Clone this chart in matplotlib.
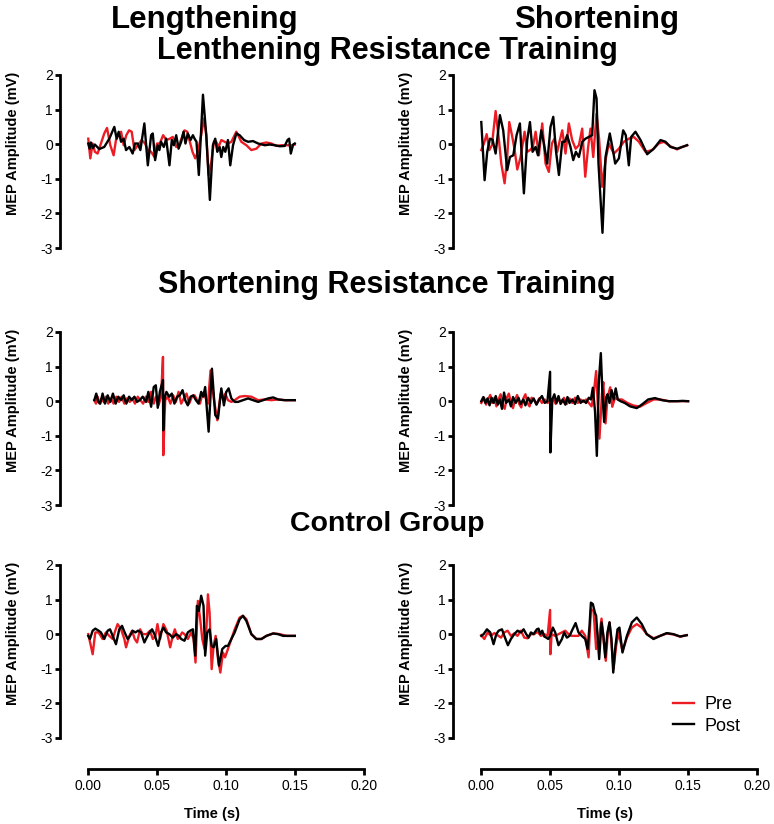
import numpy as np
import matplotlib
matplotlib.use("Agg")
import matplotlib.pyplot as plt

# MEP traces: time in ms, amplitude in mV
# Lengthening resistance training, lengthening contraction
lrt_len_pre_t = [0, 1.5, 3.2, 4.8, 6.8, 9.2, 11.6, 13.6, 16.0, 18.4, 20.1, 21.8, 23.8, 25.7, 27.6, 29.6, 31.5, 33.5, 35.9, 38.8,
                 41.2, 43.2, 45.6, 48.0, 49.9, 51.9, 54.3, 56.7, 59.2, 61.3, 63.8, 66.2, 68.1, 69.8, 71.8, 73.7, 75.6, 77.6, 79.5, 81.9,
                 83.9, 85.6, 87.3, 89.2, 91.2, 92.8, 94.5, 96.5, 98.9, 101.3, 103.8, 107.4, 111.0, 114.7, 118.3, 121.9, 125.6, 129.2, 132.8, 136.5,
                 140.1, 143.8, 147.4, 149.8]
lrt_len_pre_mv = [0.16, -0.41, 0.02, -0.22, -0.27, 0.02, 0.31, 0.47, -0.03, -0.32, 0.12, 0.26, 0.36, -0.03, 0.26, 0.40, 0.36, -0.17, -0.03, 0.12,
                  0.02, -0.17, -0.22, -0.37, 0.02, 0.02, 0.26, 0.12, 0.16, 0.21, -0.08, 0.02, 0.21, 0.40, 0.36, 0.07, -0.22, -0.41, -0.22, 0.26,
                  0.74, 0.26, -0.89, -0.51, 0.07, 0.07, -0.08, 0.12, 0.07, 0.02, 0.07, 0.36, 0.07, -0.03, -0.17, -0.13, 0.02, 0.05, 0.02, -0.05,
                  -0.03, -0.03, -0.03, -0.01]
lrt_len_post_t = [0, 1.0, 1.9, 3.4, 4.8, 8.0, 11.6, 15.3, 18.9, 20.6, 22.1, 23.8, 25.7, 27.4, 29.8, 32.2, 33.9, 35.9, 37.8, 40.7,
                  43.2, 45.6, 46.8, 48.5, 50.4, 51.6, 52.8, 54.8, 56.5, 58.9, 60.6, 62.1, 63.8, 65.5, 67.4, 69.1, 70.5, 72.2, 74.2, 75.9,
                  77.1, 78.5, 80.2, 83.2, 85.6, 88.2, 90.4, 92.1, 93.6, 95.3, 96.5, 97.9, 99.4, 101.3, 103.0, 105.0, 107.4, 109.8, 113.0, 115.9,
                  119.5, 123.2, 128.0, 131.6, 135.3, 138.9, 142.5, 144.5, 145.7, 146.9, 148.6, 149.8]
lrt_len_post_mv = [0.02, -0.13, 0.05, -0.11, -0.01, -0.14, -0.08, 0.16, 0.50, 0.16, 0.36, 0.07, 0.16, -0.17, -0.08, -0.27, 0.02, 0.02, -0.17, 0.60,
                   -0.61, 0.26, 0.31, -0.46, -0.03, -0.17, 0.07, -0.08, 0.16, -0.61, 0.12, -0.03, 0.26, -0.13, 0.07, 0.36, 0.02, 0.31, 0.12, 0.26,
                   0.16, 0.07, -0.89, 1.43, 0.26, -1.61, -0.03, 0.16, -0.22, -0.08, -0.37, -0.08, -0.22, 0.12, -0.61, -0.03, 0.31, 0.26, 0.12, 0.07,
                   0.09, 0.02, -0.03, -0.01, -0.03, -0.06, -0.05, 0.12, 0.16, -0.27, -0.01, 0.02]

# Lengthening resistance training, shortening contraction
lrt_sho_pre_t = [0, 1.9, 3.9, 5.8, 7.7, 10.4, 12.8, 14.5, 16.9, 18.8, 20.3, 22.5, 24.2, 26.1, 28.5, 31.4, 33.3, 35.3, 37.4, 39.4,
                 41.8, 44.2, 46.6, 49.0, 51.2, 53.1, 55.1, 57.0, 58.7, 61.1, 63.5, 65.9, 68.4, 70.8, 73.2, 75.4, 77.5, 79.2, 81.2, 83.6,
                 85.5, 87.7, 90.1, 92.5, 96.1, 99.8, 103.4, 107.0, 110.6, 114.3, 119.1, 123.9, 128.7, 132.4, 137.2, 142.0, 145.7, 149.3]
lrt_sho_pre_mv = [-0.17, 0.02, 0.29, -0.17, -0.03, 0.96, 0.12, -0.56, -1.13, -0.37, 0.64, 0.21, -0.17, -0.73, -0.37, 0.36, -0.22, -0.17, -0.08, 0.36,
                  -0.32, 0.60, -0.56, -0.80, 0.02, 0.16, -0.22, 0.12, 0.40, -0.27, 0.60, 0.12, -0.13, -0.03, 0.45, -0.94, -0.08, 0.45, -0.37, 0.88,
                  0.12, -1.23, -0.46, 0.02, -0.27, -0.13, 0.07, 0.16, 0.21, 0.07, -0.22, -0.17, 0.02, 0.07, -0.06, -0.15, -0.08, -0.03]
lrt_sho_post_t = [0, 2.4, 4.3, 6.3, 8.2, 10.4, 13.5, 15.9, 18.8, 20.8, 23.2, 25.6, 28.0, 30.9, 33.3, 35.3, 37.2, 39.4, 41.1, 43.5,
                  45.4, 47.8, 50.2, 52.2, 54.1, 56.3, 58.7, 60.6, 62.3, 64.7, 66.7, 68.6, 70.8, 73.2, 75.6, 78.0, 80.4, 82.1, 83.6, 85.0,
                  87.9, 90.1, 93.2, 95.7, 97.1, 99.8, 102.9, 104.8, 107.0, 108.7, 111.8, 115.5, 120.3, 125.1, 130.0, 133.6, 137.2, 142.0, 145.7, 149.3]
lrt_sho_post_mv = [0.64, -1.04, -0.22, 0.16, 0.13, -0.27, 0.84, 0.40, -0.75, -0.37, -0.32, 0.26, 0.60, -1.42, 0.12, 0.64, -0.22, -0.08, -0.32, 0.40,
                   0.02, -0.56, 0.50, 0.79, -0.17, -0.89, 0.07, 0.07, 0.26, -0.08, -0.46, -0.22, -0.37, 0.07, 0.16, 0.21, 0.26, 1.56, 1.32, -0.56,
                   -2.56, -0.37, 0.31, -0.22, -0.56, -0.41, 0.40, 0.26, -0.61, 0.21, 0.36, 0.12, -0.29, -0.13, 0.12, 0.07, -0.08, -0.13, -0.08, -0.03]

# Shortening resistance training, lengthening contraction
srt_len_pre_t = [4.4, 5.6, 6.8, 8.2, 9.7, 11.2, 12.8, 14.5, 16.5, 18.4, 20.4, 22.3, 24.2, 26.2, 28.1, 30.1, 32.0, 33.9, 35.9, 37.8,
                 39.8, 41.7, 43.6, 45.6, 47.5, 49.0, 50.9, 52.8, 54.2, 54.4, 55.8, 57.7, 59.6, 61.6, 63.5, 65.5, 67.4, 69.3, 71.3, 73.2,
                 75.2, 77.1, 79.0, 81.0, 82.9, 84.8, 86.8, 88.7, 91.2, 93.6, 96.0, 97.9, 99.4, 101.3, 103.8, 106.2, 109.8, 113.5, 118.3, 123.2,
                 128.0, 132.8, 137.7, 142.5, 149.8]
srt_len_pre_mv = [0.03, -0.07, 0.13, -0.07, 0.08, -0.02, 0.13, -0.07, 0.08, -0.07, 0.13, -0.02, 0.13, -0.07, 0.08, -0.02, 0.08, -0.07, 0.13, 0.03,
                  -0.07, 0.13, -0.02, 0.27, -0.07, 0.13, -0.12, 0.13, 1.28, -1.56, 0.03, 0.13, -0.07, 0.17, -0.02, 0.27, -0.07, 0.08, 0.22, -0.07,
                  0.13, 0.17, 0.03, -0.07, 0.22, 0.13, -0.07, 0.89, 0.03, -0.55, 0.22, 0.08, 0.22, 0.03, -0.02, 0.03, 0.13, 0.15, 0.13, 0.03,
                  0.05, 0.03, 0.05, 0.03, 0.03]
srt_len_post_t = [4.4, 5.8, 7.3, 8.7, 10.4, 12.1, 14.1, 16.0, 17.9, 19.9, 21.8, 23.8, 25.7, 27.6, 29.6, 31.5, 33.5, 35.4, 37.3, 39.5,
                  41.9, 43.6, 45.6, 47.5, 49.0, 50.4, 51.9, 54.2, 54.4, 55.3, 56.7, 58.7, 60.6, 62.5, 64.5, 66.4, 68.4, 70.3, 72.2, 74.2,
                  76.1, 78.1, 80.0, 81.9, 83.4, 84.8, 87.3, 89.7, 92.1, 94.1, 96.5, 98.4, 100.1, 101.8, 103.8, 106.2, 108.6, 112.2, 115.9, 119.5,
                  123.2, 126.8, 130.4, 134.1, 137.7, 142.5, 149.8]
srt_len_post_mv = [0.03, 0.22, -0.02, -0.07, 0.22, -0.07, 0.17, -0.02, 0.22, -0.07, 0.13, 0.03, 0.17, -0.07, 0.13, 0.03, 0.13, -0.02, 0.03, 0.13,
                   -0.02, 0.27, -0.16, 0.41, 0.46, -0.19, 0.27, 0.61, -0.84, 0.08, 0.27, 0.13, 0.22, -0.07, 0.13, 0.17, 0.32, 0.03, -0.12, 0.13,
                   0.17, 0.03, -0.07, 0.27, 0.13, 0.41, -0.88, 0.94, -0.40, -0.50, 0.37, -0.12, 0.27, 0.37, 0.08, -0.02, -0.02, 0.03, 0.08, 0.03,
                   -0.02, 0.03, 0.08, 0.11, 0.05, 0.03, 0.03]

# Shortening resistance training, shortening contraction
srt_sho_pre_t = [0, 2.0, 3.5, 5.0, 6.5, 8.0, 9.5, 11.0, 12.5, 14.0, 15.5, 17.0, 18.5, 20.0, 21.5, 23.0, 24.5, 26.0, 27.5, 29.0,
                 30.5, 32.0, 33.5, 35.0, 36.5, 38.0, 40.0, 42.0, 44.0, 46.0, 48.0, 50.0, 52.0, 54.0, 56.0, 58.0, 60.0, 62.0, 64.0, 66.0,
                 68.0, 70.0, 72.0, 74.0, 76.0, 78.0, 80.0, 81.5, 83.3, 85.7, 87.5, 88.5, 90.1, 91.5, 93.5, 95.0, 97.0, 99.0, 102.0, 106.0,
                 110.0, 115.0, 120.0, 125.0, 130.0, 136.0, 142.0, 150.0]
srt_sho_pre_mv = [-0.05, 0.10, -0.10, 0.05, 0.18, -0.05, 0.10, -0.15, 0.05, 0.20, -0.10, -0.22, 0.10, 0.22, -0.05, -0.20, 0.05, 0.18, -0.08, -0.18,
                  0.08, 0.20, -0.05, -0.15, 0.10, 0.05, -0.08, 0.08, -0.05, 0.05, -0.05, 0.0, 0.08, -0.08, 0.05, -0.05, 0.10, -0.08, 0.08, -0.05,
                  0.10, -0.05, 0.05, -0.02, 0.05, -0.05, -0.15, 0.20, 0.87, -1.08, 0.20, 0.55, -0.64, 0.10, 0.40, -0.16, 0.10, 0.05, 0.05, -0.05,
                  -0.12, -0.16, -0.05, 0.05, 0.05, 0.0, 0.0, 0.0]
srt_sho_post_t = [0, 1.5, 3.0, 4.5, 6.0, 7.5, 9.0, 10.5, 12.0, 13.5, 15.0, 16.5, 18.0, 20.0, 21.5, 23.0, 25.0, 27.0, 28.5, 30.5,
                  32.0, 34.0, 36.0, 38.0, 40.0, 42.0, 44.0, 46.0, 48.0, 49.9, 50.1, 51.5, 53.0, 54.5, 56.0, 57.5, 59.0, 61.0, 62.5, 64.0,
                  66.0, 68.0, 70.0, 72.0, 74.0, 76.0, 78.0, 79.5, 80.9, 82.5, 83.8, 85.3, 86.7, 88.0, 89.1, 90.5, 91.5, 93.0, 94.5, 96.0,
                  97.5, 99.0, 101.0, 104.0, 108.0, 112.8, 117.0, 121.0, 126.0, 131.0, 136.0, 142.0, 146.0, 150.0]
srt_sho_post_mv = [0.0, 0.12, -0.05, 0.08, -0.12, 0.10, -0.05, 0.15, -0.10, 0.05, -0.22, 0.25, -0.05, 0.05, -0.15, 0.12, -0.05, 0.10, -0.08, 0.05,
                   -0.12, 0.10, -0.05, 0.08, -0.10, 0.05, 0.15, -0.05, 0.00, 0.85, -1.48, 0.05, 0.20, -0.05, 0.15, -0.08, 0.05, -0.10, 0.12, -0.05,
                   0.05, -0.08, 0.15, -0.05, 0.02, -0.05, 0.10, 0.05, 0.39, -0.30, -1.58, 0.60, 1.39, 0.10, -0.60, 0.10, 0.20, -0.05, 0.32, 0.05,
                   0.37, 0.05, 0.00, -0.05, -0.15, -0.20, -0.08, 0.05, 0.09, 0.03, 0.0, 0.0, 0.01, 0.0]

# Control group, lengthening contraction
con_len_pre_t = [0, 1.9, 3.2, 5.1, 7.5, 10.4, 12.8, 15.3, 17.7, 19.6, 21.3, 23.8, 26.2, 27.4, 29.8, 31.8, 33.7, 35.4, 37.6, 39.5,
                 42.4, 44.8, 46.8, 48.7, 50.2, 52.1, 54.5, 56.9, 59.4, 61.3, 62.8, 64.9, 66.7, 68.1, 69.8, 72.2, 74.7, 76.4, 77.8, 79.5,
                 81.2, 82.7, 84.4, 85.6, 86.8, 88.0, 89.5, 90.9, 92.4, 94.1, 95.8, 97.7, 99.2, 101.3, 103.8, 106.2, 109.8, 112.2, 114.7, 118.3,
                 121.9, 125.6, 129.2, 134.1, 138.9, 143.8, 149.8]
con_len_pre_mv = [0.00, -0.34, -0.58, 0.05, 0.05, -0.14, 0.05, -0.05, -0.14, 0.10, 0.29, 0.14, -0.14, -0.38, -0.05, 0.10, -0.14, -0.24, 0.14, 0.00,
                  0.00, 0.10, -0.14, -0.05, 0.29, -0.14, 0.29, 0.10, -0.38, -0.05, 0.14, -0.14, -0.05, 0.05, 0.00, -0.14, 0.05, -0.14, -0.82, 0.96,
                  0.43, -0.14, -0.43, 0.05, 1.15, 0.62, -1.01, -0.34, -0.05, -0.72, -1.11, -0.53, -0.67, -0.43, -0.14, 0.14, 0.48, 0.53, 0.43, 0.00,
                  -0.14, -0.14, -0.05, 0.02, 0.00, -0.05, -0.05]
con_len_post_t = [0, 1.2, 3.2, 5.1, 7.5, 9.2, 11.6, 14.1, 15.8, 17.7, 20.1, 22.5, 24.5, 26.4, 28.6, 30.3, 32.2, 34.2, 36.1, 38.3,
                  40.7, 42.4, 44.4, 46.3, 48.0, 50.7, 52.8, 54.5, 56.5, 58.9, 61.3, 63.8, 65.7, 67.4, 69.8, 72.2, 73.9, 75.9, 77.6, 78.8,
                  80.2, 81.9, 83.6, 84.8, 86.3, 88.0, 89.5, 90.9, 92.8, 94.8, 97.2, 99.6, 101.3, 103.8, 106.2, 109.8, 112.2, 114.7, 118.3, 121.9,
                  125.6, 129.2, 134.1, 137.7, 141.3, 146.2, 149.8]
con_len_post_mv = [-0.05, -0.14, 0.10, 0.16, 0.10, 0.05, -0.14, 0.10, 0.14, -0.05, -0.29, 0.14, 0.24, 0.05, -0.14, -0.05, 0.10, 0.05, 0.10, 0.05,
                   -0.24, -0.10, 0.05, 0.14, 0.00, -0.34, 0.05, 0.19, 0.05, 0.00, -0.10, 0.00, -0.05, -0.14, -0.19, 0.05, 0.10, 0.14, -0.62, 0.82,
                   0.67, 1.11, 0.82, -0.62, 0.05, 0.14, -0.34, -0.38, -0.14, -0.91, -0.43, -0.34, -0.34, -0.14, 0.05, 0.43, 0.53, 0.38, 0.00, -0.14,
                   -0.14, -0.05, 0.02, 0.00, -0.05, -0.05, -0.05]

# Control group, shortening contraction
con_sho_pre_t = [0, 2.2, 4.6, 7.0, 9.4, 11.8, 14.3, 16.7, 19.1, 21.5, 23.9, 26.3, 28.7, 31.2, 33.6, 36.0, 38.4, 40.8, 43.2, 45.7,
                 48.1, 49.9, 50.1, 51.0, 53.6, 56.0, 58.5, 60.9, 63.3, 65.7, 68.1, 70.5, 72.9, 75.4, 77.8, 79.5, 81.4, 83.3, 85.3, 87.2,
                 88.6, 90.3, 91.8, 93.0, 94.4, 95.9, 97.8, 99.5, 102.4, 105.6, 109.2, 112.8, 116.4, 120.0, 124.9, 129.7, 134.5, 139.4, 144.2, 149.0]
con_sho_pre_mv = [-0.03, -0.14, 0.05, -0.05, 0.03, -0.03, -0.10, 0.05, 0.10, -0.05, 0.02, -0.05, 0.10, -0.10, -0.12, 0.00, 0.00, 0.07, -0.05, 0.00,
                  -0.05, 0.70, -0.58, 0.00, -0.05, 0.00, 0.05, 0.10, 0.00, -0.05, -0.05, -0.05, 0.10, -0.05, -0.67, 0.72, 0.67, -0.43, -0.14, 0.45,
                  -0.14, -0.77, 0.05, 0.34, -0.24, -1.01, -0.34, 0.05, -0.48, -0.10, 0.19, 0.29, 0.19, 0.00, -0.12, -0.05, 0.02, -0.01, -0.07, -0.03]
con_sho_post_t = [0, 1.7, 4.1, 6.5, 8.9, 10.9, 12.6, 15.0, 16.7, 19.3, 21.5, 23.9, 26.3, 28.7, 30.7, 32.6, 34.3, 36.0, 37.9, 40.3,
                  41.5, 42.8, 44.2, 45.7, 47.1, 48.6, 50.0, 51.9, 53.6, 56.0, 58.5, 60.1, 62.1, 64.0, 66.2, 68.4, 70.5, 72.9, 75.4, 77.1,
                  78.5, 79.5, 80.9, 82.4, 83.3, 84.3, 85.5, 87.2, 88.6, 89.9, 91.5, 93.0, 94.4, 95.7, 97.3, 98.8, 100.2, 102.4, 105.6, 109.2,
                  112.8, 116.4, 120.0, 124.9, 129.7, 134.5, 139.4, 144.2, 149.0]
con_sho_post_mv = [-0.05, 0.00, 0.14, 0.05, -0.29, 0.00, 0.10, 0.14, -0.05, -0.32, -0.14, 0.00, 0.10, 0.05, 0.14, 0.00, -0.10, 0.05, 0.00, 0.14,
                   0.16, 0.00, 0.10, -0.07, -0.10, -0.14, -0.05, 0.19, 0.05, -0.32, -0.14, 0.05, -0.10, -0.05, 0.14, 0.32, 0.05, -0.05, -0.14, -0.43,
                   0.24, 0.91, 0.87, 0.62, 0.53, -0.05, -0.72, 0.34, -0.05, -0.67, 0.05, 0.34, -0.14, -1.11, -0.34, 0.14, 0.19, -0.53, -0.05, 0.34,
                   0.48, 0.29, 0.00, -0.14, -0.05, 0.03, 0.00, -0.07, -0.03]

group_titles = ["Lenthening Resistance Training", "Shortening Resistance Training", "Control Group"]
column_titles = ["Lengthening", "Shortening"]
y_ticks = [-3, -2, -1, 0, 1, 2]
x_ticks = [0.00, 0.05, 0.10, 0.15, 0.20]

panels = [
    [(lrt_len_pre_t, lrt_len_pre_mv, lrt_len_post_t, lrt_len_post_mv),
     (lrt_sho_pre_t, lrt_sho_pre_mv, lrt_sho_post_t, lrt_sho_post_mv)],
    [(srt_len_pre_t, srt_len_pre_mv, srt_len_post_t, srt_len_post_mv),
     (srt_sho_pre_t, srt_sho_pre_mv, srt_sho_post_t, srt_sho_post_mv)],
    [(con_len_pre_t, con_len_pre_mv, con_len_post_t, con_len_post_mv),
     (con_sho_pre_t, con_sho_pre_mv, con_sho_post_t, con_sho_post_mv)],
]

plt.rcParams['font.family'] = ['Liberation Sans', 'DejaVu Sans']
plt.rcParams['axes.unicode_minus'] = False

RED = '#ec1c24'
fig = plt.figure(figsize=(7.74, 8.24), dpi=100)

row_bottom = [0.699, 0.3871, 0.1044]
col_left = [0.0775, 0.5853]
ax_w, ax_h = 0.3928, 0.210

for r in range(3):
    for c in range(2):
        ax = fig.add_axes([col_left[c], row_bottom[r], ax_w, ax_h])
        pre_t, pre_v, post_t, post_v = panels[r][c]
        ax.plot(np.array(pre_t) / 1000.0, pre_v, color=RED, lw=1.7, label='Pre', solid_joinstyle='round')
        ax.plot(np.array(post_t) / 1000.0, post_v, color='black', lw=1.7, label='Post', solid_joinstyle='round')
        ax.set_xlim(-0.0205, 0.2)
        ax.set_ylim(-3, 2)
        ax.set_yticks(y_ticks)
        ax.set_yticklabels([str(v) for v in y_ticks])
        for s in ['top', 'right']:
            ax.spines[s].set_visible(False)
        ax.spines['left'].set_linewidth(2.0)
        ax.tick_params(axis='y', direction='out', length=3.6, width=2.0, pad=1.5, labelsize=10)
        ax.set_ylabel('MEP Amplitude (mV)', fontsize=10.5, fontweight='bold')
        ax.yaxis.set_label_coords(-0.132, 0.607)
        if r == 2:
            ax.spines['bottom'].set_position(('outward', 22))
            ax.spines['bottom'].set_bounds(0, 0.2)
            ax.spines['bottom'].set_linewidth(2.0)
            ax.set_xticks(x_ticks)
            ax.set_xticklabels(['%.2f' % v for v in x_ticks])
            ax.tick_params(axis='x', direction='out', length=4.5, width=2.0, pad=3, labelsize=10)
            ax.set_xlabel('Time (s)', fontsize=10.5, fontweight='bold', labelpad=10)
        else:
            ax.spines['bottom'].set_visible(False)
            ax.set_xticks([])
        if r == 2 and c == 1:
            ax.legend(loc='upper left', bbox_to_anchor=(0.8695, 0.155), bbox_transform=fig.transFigure,
                      frameon=False, fontsize=13, handlelength=1.15, handletextpad=0.6, labelspacing=0.25,
                      borderaxespad=0, borderpad=0)

fig.text(0.265, 0.966, column_titles[0], ha='center', va='baseline', fontsize=22.5, fontweight='bold')
fig.text(0.771, 0.966, column_titles[1], ha='center', va='baseline', fontsize=22.5, fontweight='bold')
for txt, yb, fs in zip(group_titles, [0.928, 0.644, 0.356], [22, 22, 20.5]):
    fig.text(0.5, yb, txt, ha='center', va='baseline', fontsize=fs, fontweight='bold')

fig.savefig('out.png', dpi=100)
